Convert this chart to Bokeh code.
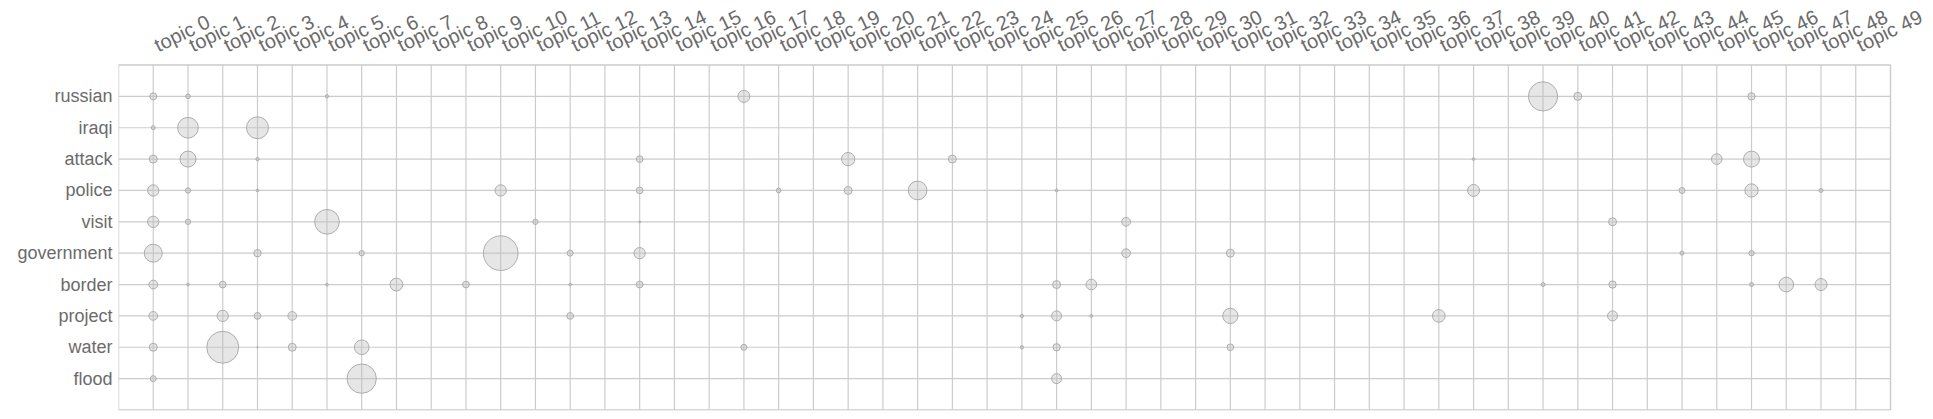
import math
from bokeh.plotting import figure
from bokeh.models import Range1d, FixedTicker, ColumnDataSource
from bokeh.core.properties import value
from bokeh.embed import file_html
from bokeh.resources import INLINE

words = ["russian", "iraqi", "attack", "police", "visit",
         "government", "border", "project", "water", "flood"]
topics = ["topic %d" % i for i in range(50)]

# one entry per bubble: word, topic index, weight (bubble area is proportional to weight)
point_word = (["russian"] * 7 + ["iraqi"] * 3 + ["attack"] * 9 + ["police"] * 13 +
              ["visit"] * 7 + ["government"] * 10 + ["border"] * 15 +
              ["project"] * 11 + ["water"] * 9 + ["flood"] * 3)
point_topic = [
    0, 1, 5, 17, 40, 41, 46,
    0, 1, 3,
    0, 1, 3, 14, 20, 23, 38, 45, 46,
    0, 1, 3, 10, 14, 18, 20, 22, 26, 38, 44, 46, 48,
    0, 1, 5, 11, 14, 28, 42,
    0, 3, 6, 10, 12, 14, 28, 31, 44, 46,
    0, 1, 2, 5, 7, 9, 12, 14, 26, 27, 40, 42, 46, 47, 48,
    0, 2, 3, 4, 12, 25, 26, 27, 31, 37, 42,
    0, 2, 3, 4, 6, 17, 25, 26, 31,
    0, 6, 26,
]
point_weight = [
    4.0, 1.8, 0.9, 11.8, 70.0, 5.2, 4.4,
    1.3, 35.0, 39.5,
    5.2, 20.9, 0.9, 3.7, 14.4, 5.2, 0.6, 9.3, 20.9,
    10.4, 2.3, 0.6, 10.4, 3.7, 1.8, 5.2, 28.5, 0.6, 11.8, 2.9, 14.4, 1.3,
    10.4, 2.3, 49.8, 2.3, 0.3, 6.2, 5.2,
    26.4, 4.4, 2.3, 98.3, 2.9, 10.4, 6.2, 5.2, 1.3, 2.3,
    6.2, 0.6, 3.7, 0.6, 13.2, 3.7, 0.6, 3.7, 5.2, 9.3, 1.3, 4.4, 1.3, 17.6, 11.8,
    6.2, 10.4, 3.7, 6.2, 3.7, 0.9, 8.2, 0.6, 19.1, 13.2, 8.2,
    5.2, 83.6, 0.14, 5.2, 17.6, 2.9, 0.9, 4.4, 3.7,
    2.9, 70.0, 8.2,
]

TEXT = "#6b6b6b"
GRID = "#cccccc"
FONT = "Liberation Sans"

n_t, n_w = len(topics), len(words)

# layout (pixels)
W, H = 1925, 411
B_LEFT, B_TOP, B_BOTTOM = 118, 0, 1
BOX_RIGHT_PX = 1890          # right edge of the plotting box (figure px)
GRID_TOP_PX = 64.5           # distance from frame top to the plotting box
frame_w = W - B_LEFT
frame_h = H - B_TOP - B_BOTTOM
ux = (BOX_RIGHT_PX - B_LEFT) / (n_t + 1)
uy = (frame_h - GRID_TOP_PX - 0.5) / (n_w + 1)
x_end = -1 + frame_w / ux
y_top = -1 - GRID_TOP_PX / uy
y_bot = n_w + 0.5 / uy

src = ColumnDataSource(dict(
    x=point_topic,
    y=[words.index(w) for w in point_word],
    size=[3.5 * math.sqrt(w) for w in point_weight],
))

p = figure(width=W, height=H, output_backend="svg", toolbar_location=None,
           x_range=Range1d(-1, x_end), y_range=Range1d(y_bot, y_top),
           x_axis_location=None, y_axis_location="left",
           min_border_left=B_LEFT, min_border_right=0,
           min_border_top=B_TOP, min_border_bottom=B_BOTTOM)

p.outline_line_color = None
p.xgrid.visible = False
p.ygrid.visible = False

ya = p.yaxis[0]
ya.ticker = FixedTicker(ticks=list(range(n_w)))
ya.major_label_overrides = {i: w for i, w in enumerate(words)}
ya.axis_line_color = None
ya.major_tick_line_color = None
ya.minor_tick_line_color = None
ya.major_tick_out = 0
ya.major_tick_in = 0
ya.major_label_standoff = 6
ya.major_label_text_font = FONT
ya.major_label_text_font_size = "18px"
ya.major_label_text_color = TEXT

# grid lines restricted to the plotting box
p.segment(x0=list(range(n_t)), x1=list(range(n_t)), y0=[-1] * n_t, y1=[n_w] * n_t,
          line_color=GRID, line_width=1.2)
p.segment(x0=[-1] * n_w, x1=[n_t] * n_w, y0=list(range(n_w)), y1=list(range(n_w)),
          line_color=GRID, line_width=1.2)
p.quad(left=[-1], right=[n_t], top=[-1], bottom=[n_w], fill_color=None,
       line_color=GRID, line_width=1.5)

p.scatter(x="x", y="y", size="size", source=src, marker="circle",
          fill_color="#bdbdbd", fill_alpha=0.38,
          line_color="#a6a6a6", line_alpha=0.9, line_width=1)

# rotated topic labels above the box
p.text(x=list(range(n_t)), y=[-1] * n_t, text=topics,
       angle=value(26), angle_units="deg", x_offset=value(7), y_offset=value(-9),
       text_align=value("left"), text_baseline=value("bottom"),
       text_font=value(FONT), text_font_size=value("20px"), text_color=value(TEXT))

open("out.html", "w").write(file_html(p, INLINE))
